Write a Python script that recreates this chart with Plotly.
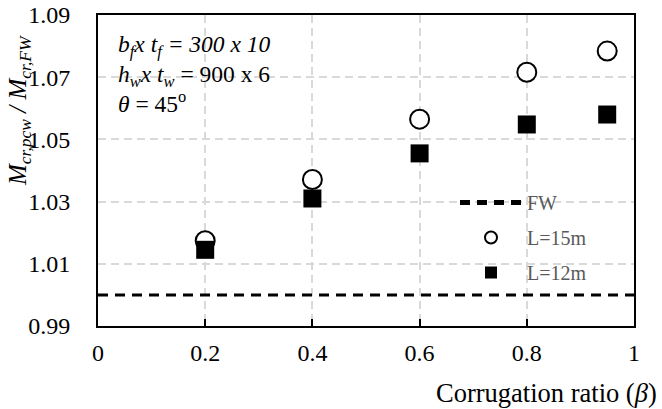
import plotly.graph_objects as go

beta = [0.2, 0.4, 0.6, 0.8, 0.95]
ratio_L15 = [1.0174, 1.0371, 1.0565, 1.0716, 1.0784]
ratio_L12 = [1.0145, 1.0310, 1.0455, 1.0548, 1.0580]
fw_x = [0.0, 1.0]
fw_y = [1.0, 1.0]
x_ticks = [0, 0.2, 0.4, 0.6, 0.8, 1.0]
x_tick_text = ["0", "0.2", "0.4", "0.6", "0.8", "1"]
y_ticks = [0.99, 1.01, 1.03, 1.05, 1.07, 1.09]
y_tick_text = ["0.99", "1.01", "1.03", "1.05", "1.07", "1.09"]

FONT = "Liberation Serif, Times New Roman, serif"

fig = go.Figure()
fig.add_trace(go.Scatter(x=fw_x, y=fw_y, mode="lines", name="FW", legendgroup="a",
                         line=dict(color="black", width=3, dash="10px,7px")))
fig.add_trace(go.Scatter(x=beta, y=ratio_L15, mode="markers", name="L=15m", legendgroup="b",
                         marker=dict(symbol="circle", size=19, color="white",
                                     line=dict(color="black", width=2))))
fig.add_trace(go.Scatter(x=beta, y=ratio_L12, mode="markers", name="L=12m", legendgroup="c",
                         marker=dict(symbol="square", size=18, color="black",
                                     line=dict(color="black", width=0))))

OFF = 0  # page body margin removed via post_script
W, H = 662, 409
L, R, T, B = 98, 28, 15, 83
pw = W - L - R
ph = H - T - B

def px2x(p):
    return (p - OFF - L) / pw

def px2y(p):
    return (H - B - (p - OFF)) / ph

# white boxes hiding gridlines behind annotation and legend
fig.add_shape(type="rect", xref="paper", yref="paper", layer="between",
              x0=px2x(100), x1=px2x(320), y0=px2y(146), y1=px2y(22),
              fillcolor="white", line=dict(width=0))
fig.add_shape(type="rect", xref="paper", yref="paper", layer="between",
              x0=px2x(445), x1=px2x(611), y0=px2y(287), y1=px2y(180),
              fillcolor="white", line=dict(width=0))

info_lines = ["<i>b<sub>f</sub>x t<sub>f</sub> = 300 x 10</i>",
              "<i>h<sub>w</sub>x t<sub>w</sub></i> = 900 x 6",
              "<i>θ</i> = 45<sup>o</sup>"]
info_y = [46, 76, 102]
for txt, yp in zip(info_lines, info_y):
    fig.add_annotation(xref="paper", yref="paper", x=px2x(116), y=px2y(yp),
                       xanchor="left", yanchor="middle", align="left", showarrow=False,
                       text=txt, font=dict(family=FONT, size=23.5, color="black"))

fig.add_annotation(xref="paper", yref="paper", x=px2x(659), y=px2y(393),
                   xanchor="right", yanchor="middle", showarrow=False,
                   text="Corrugation ratio (<i>β</i>)",
                   font=dict(family=FONT, size=26.5, color="black"))

fig.add_annotation(xref="paper", yref="paper", x=px2x(19), y=px2y(111),
                   xanchor="center", yanchor="middle", showarrow=False, textangle=-90,
                   text="<i>M<sub>cr,pcw</sub> / M<sub>cr,FW</sub></i>",
                   font=dict(family=FONT, size=25, color="black"))

fig.update_layout(
    width=W, height=H,
    margin=dict(l=L, r=R, t=T, b=B, autoexpand=False),
    paper_bgcolor="white", plot_bgcolor="white",
    font=dict(family=FONT, size=24, color="black"),
    showlegend=True,
    legend=dict(x=px2x(455), y=px2y(183), xanchor="left", yanchor="top",
                bgcolor="rgba(0,0,0,0)", font=dict(family=FONT, size=20, color="#595959"),
                tracegroupgap=6, itemsizing="constant", itemwidth=62),
)
fig.update_xaxes(range=[0, 1], tickvals=x_ticks, ticktext=x_tick_text, automargin=False,
                 showline=True, linecolor="black", linewidth=2, mirror=True,
                 ticks="inside", ticklen=7, tickwidth=2, tickcolor="black",
                 showgrid=True, gridcolor="#d9d9d9", gridwidth=1.5, griddash="8px,5px",
                 zeroline=False, ticklabelstandoff=4, ticklabeloverflow="allow",
                 tickfont=dict(family=FONT, size=24, color="black"))
fig.update_yaxes(range=[0.99, 1.09], tickvals=y_ticks, ticktext=y_tick_text, automargin=False,
                 showline=True, linecolor="black", linewidth=2, mirror=True,
                 ticks="",
                 showgrid=True, gridcolor="#d9d9d9", gridwidth=1.5, griddash="8px,5px",
                 zeroline=False, ticklabelstandoff=21, ticklabeloverflow="allow",
                 tickfont=dict(family=FONT, size=24, color="black"))

fig.write_html("out.html", config={"displayModeBar": False},
               post_script="document.body.style.margin='0';document.body.style.overflow='hidden';")
